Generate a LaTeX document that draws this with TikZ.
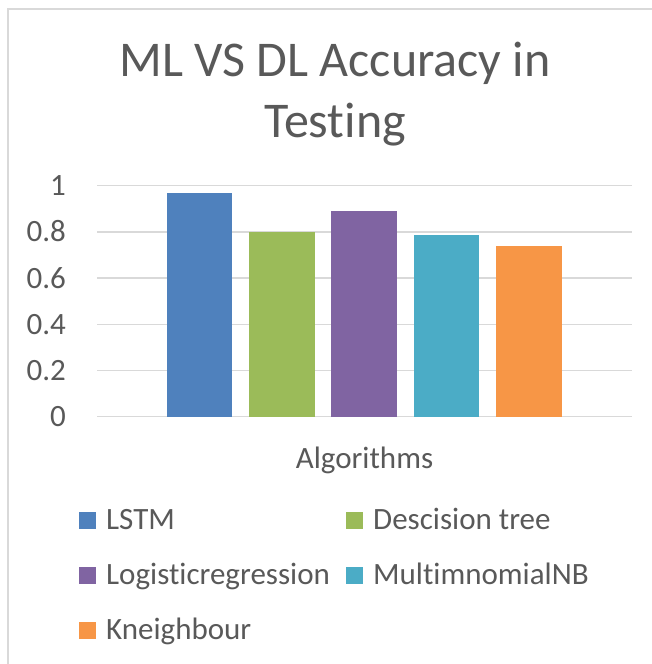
\documentclass[tikz,border=0pt]{standalone}
\usepackage{fontspec}
\setmainfont{Carlito}[Ligatures={NoCommon}]
\definecolor{txt}{HTML}{595959}
\definecolor{grid}{HTML}{D9D9D9}
\definecolor{cLSTM}{HTML}{4F81BD}
\definecolor{cDT}{HTML}{9BBB59}
\definecolor{cLR}{HTML}{8064A2}
\definecolor{cNB}{HTML}{4BACC6}
\definecolor{cKN}{HTML}{F79646}
\tikzset{
  gridline/.style={draw=grid, line width=1.5pt},
  ylab/.style={anchor=base east, text=txt, font=\fontsize{31}{37}\selectfont, inner sep=0pt},
  legtext/.style={anchor=base west, text=txt, font=\fontsize{31}{37}\selectfont, inner sep=0pt},
  legmark/.style={minimum width=17pt, minimum height=17pt, inner sep=0pt, anchor=south west},
  titletext/.style={text=txt, font=\fontsize{50}{61}\selectfont, anchor=base, inner sep=0pt},
}
\begin{document}
\begin{tikzpicture}[x=1pt,y=-1pt]
\useasboundingbox (0,0) rectangle (652,664);
\fill[white] (0,0) rectangle (652,664);
% frame
\draw[draw=grid, line width=2pt] (652,8.5) -- (8,8.5) -- (8,664);
% title
\node[titletext] (title1) at (335,76) {ML VS DL Accuracy in};
\node[titletext] (title2) at (335,137) {Testing};
% gridlines and labels
\foreach \v/\lab [count=\i] in {0/0,0.2/0.2,0.4/0.4,0.6/0.6,0.8/0.8,1/1}{
  \pgfmathsetmacro{\yy}{416.7-231*\v}
  \draw[gridline] (97,\yy) -- (632,\yy);
  \node[ylab] (yl\i) at (66,\yy+10) {\lab};
}
% bars
\def\base{416.7}
\fill[cLSTM] (167,\base) rectangle (232,193);
\fill[cDT]   (249,\base) rectangle (315,232);
\fill[cLR]   (331,\base) rectangle (397,211);
\fill[cNB]   (414,\base) rectangle (479,235);
\fill[cKN]   (496,\base) rectangle (562,246);
% axis title
\node[text=txt, font=\fontsize{31}{37}\selectfont, anchor=base, inner sep=0pt] (xtitle) at (364.5,468) {Algorithms};
% legend
\node[legmark, fill=cLSTM] (m1) at (79,529.5) {};
\node[legtext] (t1) at (106,529.5) {LSTM};
\node[legmark, fill=cDT] (m2) at (346,529.5) {};
\node[legtext] (t2) at (373,529.5) {Descision tree};
\node[legmark, fill=cLR] (m3) at (79,584) {};
\node[legtext] (t3) at (106,584) {Logisticregression};
\node[legmark, fill=cNB] (m4) at (346,584) {};
\node[legtext] (t4) at (373,584) {MultimnomialNB};
\node[legmark, fill=cKN] (m5) at (79,639) {};
\node[legtext] (t5) at (106,639) {Kneighbour};
\end{tikzpicture}
\end{document}
